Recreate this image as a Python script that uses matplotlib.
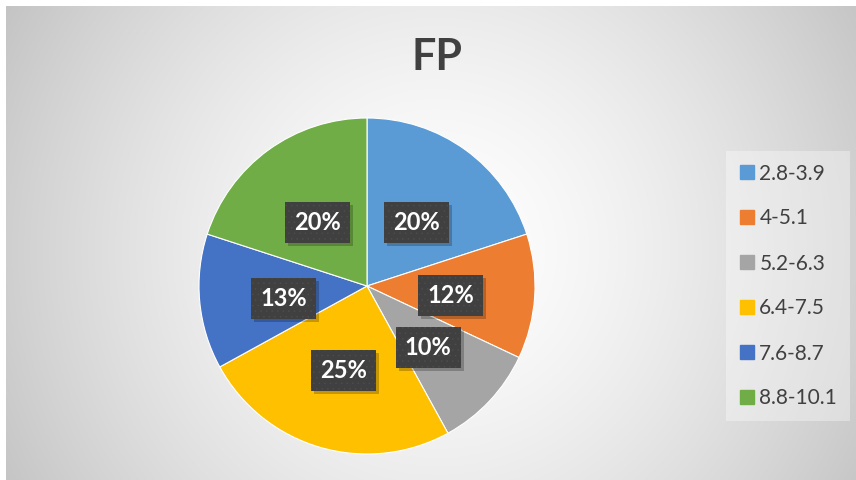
import numpy as np
import matplotlib
matplotlib.use("Agg")
import matplotlib.pyplot as plt
from matplotlib.lines import Line2D
from matplotlib.patches import Rectangle

categories = ["2.8-3.9", "4-5.1", "5.2-6.3", "6.4-7.5", "7.6-8.7", "8.8-10.1"]
shares = [20, 12, 10, 25, 13, 20]
colors = ["#5B9BD5", "#ED7D31", "#A5A5A5", "#FFC000", "#4472C4", "#70AD47"]
title = "FP"

plt.rcParams['font.family'] = ['Lato', 'DejaVu Sans']
plt.rcParams['hatch.linewidth'] = 0.3

W, H = 856, 480
fig = plt.figure(figsize=(W / 100, H / 100), dpi=100)
fig.patch.set_facecolor("white")

# background radial gradient
bg = fig.add_axes([0, 0, 1, 1])
bg.set_axis_off()
yy, xx = np.mgrid[0:H, 0:W]
r = np.hypot(xx - 437, yy - 250) / 495.0
val = 255 - 59 * np.clip(r, 0, 1.2) ** 1.5
img = np.dstack([val, val, val]) / 255.0
img[:6, :, :] = 1.0
img[:, :6, :] = 1.0
bg.imshow(img, extent=[0, W, H, 0], aspect='auto', interpolation='bilinear')
bg.set_xlim(0, W)
bg.set_ylim(H, 0)

# pie
cx, cy, rad = 367, 286, 168
ax = fig.add_axes([(cx - rad) / W, (H - cy - rad) / H, 2 * rad / W, 2 * rad / H])
ax.set_facecolor("none")
wedges, texts, autotexts = ax.pie(
    shares, colors=colors, startangle=90, counterclock=False,
    autopct=lambda p: f"{p:.0f}%", pctdistance=0.5,
    wedgeprops=dict(edgecolor="white", linewidth=0.8),
    textprops=dict(color="white", fontsize=17, fontweight="bold"))
ax.set_xlim(-1, 1)
ax.set_ylim(-1, 1)
ax.set_aspect("equal")

for t in autotexts:
    x, y = t.get_position()
    t.set_position((x, y - 0.025))
    t.set_bbox(dict(boxstyle="square,pad=0.38", facecolor="#404040",
                    edgecolor="#4e4e4e", linewidth=0, hatch="..."))
    t.set_zorder(5)
    t.set_ha("center")
    t.set_va("center")

fig.text(437 / W, 1 - 57 / H, title, ha="center", va="center",
         fontsize=31, fontweight="bold", color="#404040")

handles = [Line2D([0], [0], marker="s", linestyle="none", markersize=10,
                  markerfacecolor=c, markeredgecolor=c) for c in colors]
leg = fig.legend(handles, categories, loc="upper left",
                 bbox_to_anchor=(726 / W, 1 - 151 / H),
                 frameon=True, fontsize=15, labelspacing=1.2,
                 handlelength=0.8, handletextpad=0.2, borderpad=0.6,
                 borderaxespad=0, labelcolor="#404040")
leg.get_frame().set_facecolor("white")
leg.get_frame().set_alpha(0.35)
leg.get_frame().set_edgecolor("none")
leg.get_frame().set_boxstyle("square,pad=0")

# drop shadows behind the label boxes (inside the pie axes, below the labels)
fig.canvas.draw()
renderer = fig.canvas.get_renderer()
for t in autotexts:
    bb = t.get_bbox_patch().get_window_extent(renderer)
    shadow = Rectangle((bb.x0 + 3, bb.y0 - 3), bb.width, bb.height,
                       transform=None, facecolor="black", alpha=0.22,
                       edgecolor="none", zorder=4)
    ax.add_patch(shadow)
    shadow.set_clip_on(False)

fig.savefig("out.png", dpi=100)
